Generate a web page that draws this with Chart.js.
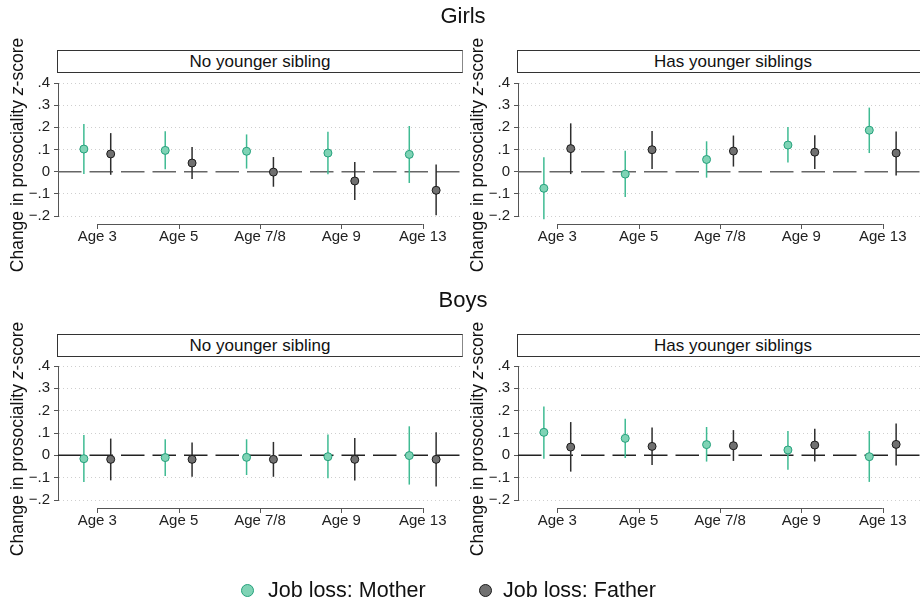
<!DOCTYPE html>
<html>
<head>
<meta charset="utf-8">
<script src="https://cdn.jsdelivr.net/npm/chart.js@4/dist/chart.umd.min.js"></script>
<style>
  body { margin: 0; background: #fff; font-family: "Liberation Sans", Arial, sans-serif; color: #111; }
  #wrap { position: relative; width: 920px; height: 601px; overflow: hidden; }
  canvas { position: absolute; left: 0; top: 0; }
  .group { position: absolute; left: 0; width: 926px; text-align: center; font-size: 22px; line-height: 22px; }
  .strip { position: absolute; height: 23px; box-sizing: border-box; border: 1px solid #333; border-right-color: #888;
           font-size: 17px; display: flex; align-items: center; justify-content: center; background: #fff; }
  .ytitle { position: absolute; font-size: 17.5px; line-height: 1; white-space: nowrap;
            transform: translate(-50%, -50%) rotate(-90deg); }
  .legend { position: absolute; top: 579px; font-size: 21.5px; line-height: 22px; white-space: nowrap; }
  .dot { position: absolute; width: 13px; height: 13px; box-sizing: border-box; border-radius: 50%; border: 1.5px solid; }
</style>
</head>
<body>
<div id="wrap">
  <canvas id="c1" width="940" height="601"></canvas>
  <canvas id="c2" width="940" height="601"></canvas>
  <canvas id="c3" width="940" height="601"></canvas>
  <canvas id="c4" width="940" height="601"></canvas>

  <div class="group" style="top:5px">Girls</div>
  <div class="group" style="top:289px">Boys</div>

  <div class="strip" style="left:57px; top:50px; width:406px">No younger sibling</div>
  <div class="strip" style="left:517px; top:50px; width:432px">Has younger siblings</div>
  <div class="strip" style="left:57px; top:334px; width:406px">No younger sibling</div>
  <div class="strip" style="left:517px; top:334px; width:432px">Has younger siblings</div>

  <div class="ytitle" style="left:17.5px; top:155px">Change in prosociality <i>z</i>-score</div>
  <div class="ytitle" style="left:478px; top:155px">Change in prosociality <i>z</i>-score</div>
  <div class="ytitle" style="left:17.5px; top:439px">Change in prosociality <i>z</i>-score</div>
  <div class="ytitle" style="left:478px; top:439px">Change in prosociality <i>z</i>-score</div>

  <div class="dot" style="left:241px; top:584px; background:#7fd3b5; border-color:#24a07b"></div>
  <div class="legend" style="left:268px">Job loss: Mother</div>
  <div class="dot" style="left:479px; top:584px; background:#707070; border-color:#1a1a1a"></div>
  <div class="legend" style="left:503px">Job loss: Father</div>
</div>

<script>
// categories
const ages = ['Age 3', 'Age 5', 'Age 7/8', 'Age 9', 'Age 13'];

// Girls, no younger sibling
const girlsNoMotherEst = [0.102, 0.096, 0.092, 0.084, 0.078];
const girlsNoMotherLo  = [-0.011, 0.011, 0.014, -0.012, -0.051];
const girlsNoMotherHi  = [0.215, 0.182, 0.168, 0.180, 0.206];
const girlsNoFatherEst = [0.080, 0.039, -0.002, -0.042, -0.084];
const girlsNoFatherLo  = [-0.014, -0.033, -0.068, -0.128, -0.197];
const girlsNoFatherHi  = [0.174, 0.111, 0.066, 0.044, 0.032];

// Girls, has younger siblings
const girlsHasMotherEst = [-0.075, -0.011, 0.055, 0.120, 0.187];
const girlsHasMotherLo  = [-0.215, -0.114, -0.027, 0.041, 0.084];
const girlsHasMotherHi  = [0.065, 0.094, 0.137, 0.201, 0.289];
const girlsHasFatherEst = [0.104, 0.099, 0.093, 0.088, 0.084];
const girlsHasFatherLo  = [-0.011, 0.012, 0.023, 0.012, -0.017];
const girlsHasFatherHi  = [0.218, 0.184, 0.163, 0.164, 0.181];

// Boys, no younger sibling
const boysNoMotherEst = [-0.015, -0.010, -0.009, -0.006, -0.001];
const boysNoMotherLo  = [-0.119, -0.093, -0.088, -0.103, -0.131];
const boysNoMotherHi  = [0.091, 0.072, 0.072, 0.093, 0.130];
const boysNoFatherEst = [-0.018, -0.018, -0.018, -0.018, -0.018];
const boysNoFatherLo  = [-0.112, -0.096, -0.096, -0.113, -0.139];
const boysNoFatherHi  = [0.075, 0.058, 0.060, 0.078, 0.103];

// Boys, has younger siblings
const boysHasMotherEst = [0.103, 0.076, 0.048, 0.024, -0.006];
const boysHasMotherLo  = [-0.015, -0.012, -0.028, -0.064, -0.119];
const boysHasMotherHi  = [0.219, 0.164, 0.127, 0.109, 0.109];
const boysHasFatherEst = [0.037, 0.040, 0.043, 0.046, 0.049];
const boysHasFatherLo  = [-0.073, -0.043, -0.025, -0.028, -0.046];
const boysHasFatherHi  = [0.149, 0.125, 0.113, 0.119, 0.143];

const FONT = '"Liberation Sans", Arial, sans-serif';
const SHIFT = 0.165;

// zero line, confidence intervals and the detached category axis line
const ciPlugin = {
    id: 'ciLines',
    beforeDatasetsDraw(chart, args, opts) {
        const { ctx, chartArea, scales: { x, y } } = chart;
        ctx.save();

        const y0 = y.getPixelForValue(0);
        ctx.strokeStyle = opts.zeroColor;
        ctx.lineWidth = 1.5;
        ctx.setLineDash([23.5, 8]);
        ctx.beginPath();
        ctx.moveTo(chartArea.left, y0);
        ctx.lineTo(chartArea.right, y0);
        ctx.stroke();
        ctx.setLineDash([]);

        chart.data.datasets.forEach(ds => {
            ctx.strokeStyle = ds.ciColor;
            ctx.lineWidth = 1.5;
            ds.data.forEach((p, i) => {
                const px = x.getPixelForValue(p.x);
                ctx.beginPath();
                ctx.moveTo(px, y.getPixelForValue(ds.lo[i]));
                ctx.lineTo(px, y.getPixelForValue(ds.hi[i]));
                ctx.stroke();
            });
        });

        const ya = chartArea.bottom + 8;
        const xa = x.getPixelForValue(1);
        const xb = x.getPixelForValue(ages.length);
        ctx.strokeStyle = '#555';
        ctx.lineWidth = 1;
        ctx.beginPath();
        ctx.moveTo(xa, ya + 0.5);
        ctx.lineTo(xb, ya + 0.5);
        ages.forEach((a, i) => {
            const px = Math.round(x.getPixelForValue(i + 1)) + 0.5;
            ctx.moveTo(px, ya);
            ctx.lineTo(px, ya + 5);
        });
        ctx.stroke();
        ctx.restore();
    }
};

function fmtTick(v) {
    const r = Math.round(v * 10);
    if (r === 0) return '0';
    return (r < 0 ? '\u2212' : '') + '.' + Math.abs(r);
}

function makePanel(id, box, zeroColor, mEst, mLo, mHi, fEst, fLo, fHi) {
    const ctx = document.getElementById(id).getContext('2d');
    new Chart(ctx, {
        type: 'scatter',
        data: {
            datasets: [
                {
                    label: 'Job loss: Mother',
                    data: mEst.map((v, i) => ({ x: i + 1 - SHIFT, y: v })),
                    lo: mLo, hi: mHi,
                    ciColor: '#3fbb93',
                    pointRadius: 4,
                    pointBackgroundColor: '#7fd3b5',
                    pointBorderColor: '#24a07b',
                    pointBorderWidth: 1
                },
                {
                    label: 'Job loss: Father',
                    data: fEst.map((v, i) => ({ x: i + 1 + SHIFT, y: v })),
                    lo: fLo, hi: fHi,
                    ciColor: '#2e2e2e',
                    pointRadius: 4,
                    pointBackgroundColor: '#707070',
                    pointBorderColor: '#1a1a1a',
                    pointBorderWidth: 1
                }
            ]
        },
        options: {
            responsive: false,
            animation: false,
            devicePixelRatio: 1,
            layout: {
                padding: {
                    left: box.left - 58,
                    right: 940 - box.right,
                    top: box.top,
                    bottom: 601 - box.bottom - 30
                }
            },
            plugins: {
                legend: { display: false },
                tooltip: { enabled: false },
                ciLines: { zeroColor: zeroColor }
            },
            scales: {
                x: {
                    type: 'linear',
                    min: 0.517,
                    max: 5.483,
                    afterBuildTicks: scale => {
                        scale.ticks = ages.map((a, i) => ({ value: i + 1 }));
                    },
                    afterFit: scale => { scale.height = 30; },
                    grid: { display: false, drawTicks: false },
                    border: { display: false },
                    ticks: {
                        autoSkip: false,
                        maxRotation: 0,
                        padding: 12,
                        color: '#222',
                        font: { family: FONT, size: 15 },
                        callback: v => ages[Math.round(v) - 1]
                    }
                },
                y: {
                    min: -0.2,
                    max: 0.4,
                    afterFit: scale => { scale.width = 58; },
                    ticks: {
                        stepSize: 0.1,
                        padding: 4,
                        color: '#222',
                        font: { family: FONT, size: 15 },
                        callback: v => fmtTick(v)
                    },
                    grid: {
                        color: c => Math.abs(c.tick.value) < 1e-9 ? 'rgba(0,0,0,0)' : '#cfcfcf',
                        lineWidth: 1,
                        drawTicks: true,
                        tickLength: 4,
                        tickColor: '#555'
                    },
                    border: { display: true, color: '#555', width: 1, dash: [1, 3] }
                }
            }
        },
        plugins: [ciPlugin]
    });
}

makePanel('c1', { left: 58, right: 462, top: 83, bottom: 216 }, '#666',
    girlsNoMotherEst, girlsNoMotherLo, girlsNoMotherHi, girlsNoFatherEst, girlsNoFatherLo, girlsNoFatherHi);
makePanel('c2', { left: 518, right: 922, top: 83, bottom: 216 }, '#666',
    girlsHasMotherEst, girlsHasMotherLo, girlsHasMotherHi, girlsHasFatherEst, girlsHasFatherLo, girlsHasFatherHi);
makePanel('c3', { left: 58, right: 462, top: 366, bottom: 500 }, '#222',
    boysNoMotherEst, boysNoMotherLo, boysNoMotherHi, boysNoFatherEst, boysNoFatherLo, boysNoFatherHi);
makePanel('c4', { left: 518, right: 922, top: 366, bottom: 500 }, '#222',
    boysHasMotherEst, boysHasMotherLo, boysHasMotherHi, boysHasFatherEst, boysHasFatherLo, boysHasFatherHi);
</script>
</body>
</html>
